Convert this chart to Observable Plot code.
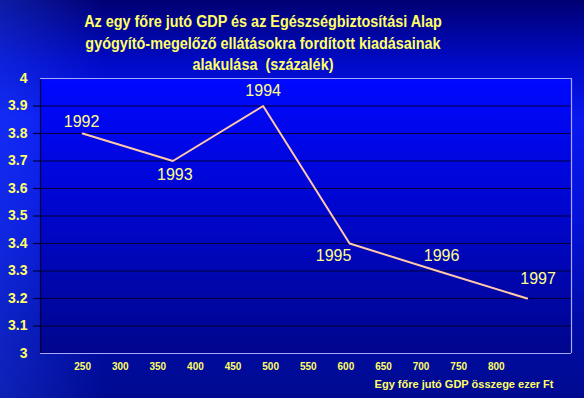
<!DOCTYPE html>
<html>
<head>
<meta charset="utf-8">
<script src="https://cdn.jsdelivr.net/npm/d3@7"></script>
<script src="https://cdn.jsdelivr.net/npm/@observablehq/plot@0.6"></script>
<style>
  html, body { margin: 0; padding: 0; }
  body {
    width: 584px; height: 398px; overflow: hidden;
    font-family: "Liberation Sans", Arial, sans-serif;
    background:
      linear-gradient(to right, rgba(40,80,255,0.35), rgba(0,0,0,0) 18%),
      linear-gradient(to bottom, #000072 0%, #000ac8 16%, #0818f0 30%, #0512d8 55%, #000ca8 80%, #000a90 100%);
  }
  #title {
    height: 72px; box-sizing: border-box; padding-top: 11px;
    width: 526px; text-align: center;
    color: #ffff66; font-weight: bold; font-size: 16px; line-height: 21.5px;
    transform: scaleX(0.9); transform-origin: 263px 0;
  }
  #chart svg { display: block; }
</style>
</head>
<body>
<div id="title">Az egy főre jutó GDP és az Egészségbiztosítási Alap<br>gyógyító-megelőző ellátásokra fordított kiadásainak<br>alakulása&nbsp; (százalék)</div>
<div id="chart"></div>
<script>
const years = ["1992", "1993", "1994", "1995", "1996", "1997"];
const gdp = [250, 370, 490, 605, 722, 841];
const pct = [3.8, 3.7, 3.9, 3.4, 3.3, 3.2];
const xTicks = [250, 300, 350, 400, 450, 500, 550, 600, 650, 700, 750, 800];
const yTicks = [3, 3.1, 3.2, 3.3, 3.4, 3.5, 3.6, 3.7, 3.8, 3.9, 4];
const xAxisTitle = "Egy főre jutó GDP összege ezer Ft";

const data = years.map((y, i) => ({year: y, gdp: gdp[i], pct: pct[i]}));
const innerY = yTicks.filter(v => v > 3 && v < 4);

const placement = {
  "1992": [-1, -12], "1993": [2, 14], "1994": [0, -15],
  "1995": [-16, 12], "1996": [4, -15], "1997": [11, -20]
};

const yellow = "#ffff66";
const lav = "#a8a8ff";
const dark = "#000038";

const marks = [
  Plot.frame({fill: "url(#plotGrad)", stroke: null}),
  Plot.gridY(innerY, {stroke: dark, strokeOpacity: 1, strokeWidth: 1.2}),
  Plot.axisY(innerY, {text: null, tickSize: 7, stroke: dark, strokeWidth: 1.2, label: null}),
  Plot.axisY(yTicks, {tickSize: 0, tickPadding: 13, fill: yellow, fontSize: 14, fontWeight: "bold", label: null, tickFormat: d => String(+d.toFixed(1))}),
  Plot.axisX(xTicks, {tickSize: 0, tickPadding: 9, fill: yellow, fontSize: 10, fontWeight: "bold", label: null}),
  Plot.ruleX([194], {stroke: dark, strokeWidth: 1.2}),
  Plot.ruleY([3, 4], {stroke: lav, strokeWidth: 1.2}),
  Plot.ruleX([900], {stroke: lav, strokeWidth: 1.2}),
  Plot.line(data, {x: "gdp", y: "pct", stroke: "#ffc8a8", strokeWidth: 2}),
  ...years.map(yr => Plot.text(data.filter(d => d.year === yr), {
    x: "gdp", y: "pct", text: "year",
    dx: placement[yr][0], dy: placement[yr][1],
    fill: "#ffff88", fontSize: 16, fontFamily: "Liberation Sans, Arial, sans-serif"
  })),
  Plot.text([xAxisTitle], {frameAnchor: "bottom-right", text: d => d, dy: 34, dx: -18, fill: yellow, fontSize: 11, fontWeight: "bold", textAnchor: "end"})
];

const chart = Plot.plot({
  width: 584, height: 326,
  marginTop: 6, marginBottom: 45, marginLeft: 40, marginRight: 13,
  style: {background: "transparent", fontFamily: "Liberation Sans, Arial, sans-serif", overflow: "visible"},
  x: {domain: [194, 900], axis: null},
  y: {domain: [3, 4], axis: null},
  marks
});

const ns = "http://www.w3.org/2000/svg";
const defs = document.createElementNS(ns, "defs");
defs.innerHTML = `<linearGradient id="plotGrad" x1="0" y1="0" x2="0" y2="1">
  <stop offset="0" stop-color="#0008ff"/>
  <stop offset="0.45" stop-color="#0006d0"/>
  <stop offset="1" stop-color="#00068c"/>
</linearGradient>`;
chart.insertBefore(defs, chart.firstChild);
document.getElementById("chart").appendChild(chart);
</script>
</body>
</html>
